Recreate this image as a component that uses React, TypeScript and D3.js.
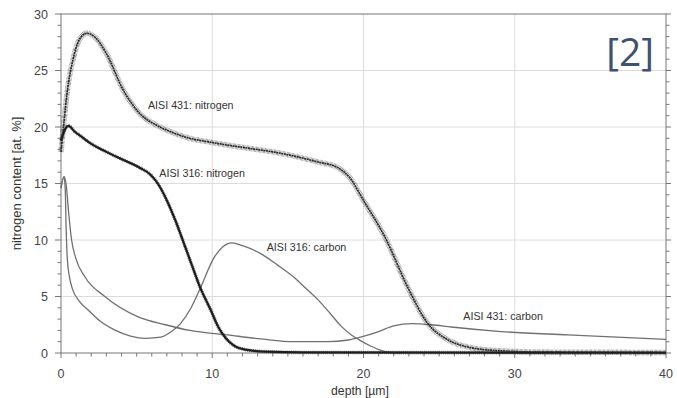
import React, { useEffect, useRef } from "react";
import * as d3 from "d3";

// depth [µm], content [at. %]
const n431: [number, number][] = [
  [0, 17.8], [0.2, 20.5], [0.4, 23], [0.8, 26], [1.2, 27.7], [1.7, 28.3], [2.2, 28.0],
  [3.0, 26.5], [4.1, 23.3], [5.2, 21.2], [6.4, 20.1], [7.4, 19.5], [8.5, 19.0], [9.7, 18.7],
  [11, 18.4], [12.5, 18.1], [14, 17.8], [15.5, 17.4], [17, 16.9], [18.3, 16.4], [19.1, 15.5],
  [20, 13.5], [21.4, 10.3], [23.0, 5.6], [24.2, 2.7], [25.6, 1.15], [27, 0.5], [29, 0.2],
  [32, 0.08], [40, 0.05],
];
const n316: [number, number][] = [
  [0, 18.8], [0.2, 19.6], [0.5, 20.1], [0.9, 19.6], [1.4, 19.1], [1.9, 18.6], [3, 17.8],
  [4.1, 17.1], [5.2, 16.4], [5.9, 15.8], [6.4, 15.0], [7.0, 13.5], [7.6, 11.6], [8.1, 9.8],
  [8.7, 7.6], [9.2, 5.8], [9.9, 3.8], [10.4, 2.3], [10.9, 1.3], [11.5, 0.6], [12.2, 0.3],
  [13.5, 0.12], [16, 0.05], [40, 0.02],
];
const c316: [number, number][] = [
  [0, 14.6], [0.2, 15.6], [0.28, 14.5], [0.34, 11], [0.42, 8.3], [0.55, 6.8], [0.75, 5.7],
  [1.2, 4.6], [1.8, 3.8], [2.6, 2.8], [3.6, 2.0], [4.6, 1.5], [5.6, 1.3], [6.6, 1.4],
  [7.3, 1.9], [7.9, 2.6], [8.6, 4], [9.2, 5.7], [10.1, 8.4], [10.7, 9.4], [11.3, 9.75],
  [12, 9.5], [13.2, 8.8], [14.3, 7.8], [15.4, 6.7], [16.2, 5.7], [17, 4.7], [17.8, 3.5],
  [18.5, 2.4], [19.2, 1.6], [19.8, 1.1], [20.5, 0.6], [21.1, 0.25], [21.8, 0.05], [22.5, 0],
];
const c431: [number, number][] = [
  [0, 14.6], [0.2, 15.6], [0.35, 14.8], [0.5, 12.5], [0.7, 10], [0.95, 8.5], [1.6, 6.7],
  [2.9, 5], [5.1, 3.2], [6.9, 2.5], [8.5, 2.0], [11, 1.6], [13.2, 1.25], [15.4, 1.0],
  [17.6, 1.0], [19, 1.15], [19.8, 1.4], [21, 1.9], [22, 2.4], [23.2, 2.6], [24.5, 2.5],
  [25.8, 2.3], [29.1, 1.9], [33.5, 1.6], [40, 1.2],
];

const xTicks = [0, 10, 20, 30, 40];
const yTicks = [0, 5, 10, 15, 20, 25, 30];

const labels = [
  { text: "AISI 431: nitrogen", x: 5.75, y: 21.6 },
  { text: "AISI 316: nitrogen", x: 6.5, y: 15.6 },
  { text: "AISI 316: carbon", x: 13.6, y: 9.0 },
  { text: "AISI 431: carbon", x: 26.6, y: 2.9 },
];

const W = 677;
const H = 398;

export default function App() {
  const ref = useRef<SVGSVGElement>(null);

  useEffect(() => {
    const svg = d3.select(ref.current);
    svg.selectAll("*").remove();

    const x = d3.scaleLinear().domain([0, 40]).range([61, 666]);
    const y = d3.scaleLinear().domain([0, 30]).range([353, 14]);
    const font = "'Liberation Sans', Arial, sans-serif";

    svg.append("rect").attr("width", W).attr("height", H).attr("fill", "#fff");

    // grid
    const grid = svg.append("g").attr("stroke", "#dcdcdc").attr("stroke-width", 1);
    xTicks.slice(1, -1).forEach((t) =>
      grid.append("line").attr("x1", x(t)).attr("x2", x(t)).attr("y1", y(0)).attr("y2", y(30))
    );
    yTicks.slice(1, -1).forEach((t) =>
      grid.append("line").attr("x1", x(0)).attr("x2", x(40)).attr("y1", y(t)).attr("y2", y(t))
    );

    // frame
    const axisColor = "#777";
    svg.append("rect")
      .attr("x", x(0)).attr("y", y(30))
      .attr("width", x(40) - x(0)).attr("height", y(0) - y(30))
      .attr("fill", "none").attr("stroke", axisColor).attr("stroke-width", 1);

    const ticks = svg.append("g").attr("stroke", axisColor).attr("stroke-width", 1);
    d3.range(0, 41, 1).forEach((t) => {
      const major = t % 10 === 0;
      ticks.append("line").attr("x1", x(t)).attr("x2", x(t))
        .attr("y1", y(0)).attr("y2", y(0) + (major ? 5 : 3.5));
    });
    d3.range(0, 31, 1).forEach((t) => {
      const major = t % 5 === 0;
      ticks.append("line").attr("x1", x(0) - (major ? 6 : 3.5)).attr("x2", x(0))
        .attr("y1", y(t)).attr("y2", y(t));
      ticks.append("line").attr("x1", x(40)).attr("x2", x(40) + (major ? 5 : 3.5))
        .attr("y1", y(t)).attr("y2", y(t));
    });

    // tick labels
    svg.append("g").selectAll("text").data(xTicks).enter().append("text")
      .attr("x", (d) => x(d)).attr("y", 378)
      .attr("text-anchor", "middle").attr("font-family", font).attr("font-size", 12.5)
      .attr("fill", "#444").text((d) => d);
    svg.append("g").selectAll("text").data(yTicks).enter().append("text")
      .attr("x", 48).attr("y", (d) => y(d) + 4.5)
      .attr("text-anchor", "end").attr("font-family", font).attr("font-size", 12.5)
      .attr("fill", "#444").text((d) => d);

    // axis titles
    svg.append("text").attr("x", 360).attr("y", 395)
      .attr("text-anchor", "middle").attr("font-family", font).attr("font-size", 12.2)
      .attr("fill", "#333").text("depth [µm]");
    svg.append("text")
      .attr("transform", `translate(21, ${(y(0) + y(30)) / 2}) rotate(-90)`)
      .attr("text-anchor", "middle").attr("font-family", font).attr("font-size", 13)
      .attr("fill", "#333").text("nitrogen content [at. %]");

    const line = d3.line<[number, number]>()
      .x((d) => x(d[0])).y((d) => y(d[1]))
      .curve(d3.curveMonotoneX);

    // carbon profiles
    [c316, c431].forEach((data) =>
      svg.append("path").attr("d", line(data)).attr("fill", "none")
        .attr("stroke", "#707070").attr("stroke-width", 1.3)
    );

    // nitrogen profiles (noisy measured data look)
    svg.append("path").attr("d", line(n431)).attr("fill", "none")
      .attr("stroke", "#444").attr("stroke-width", 5.5)
      .attr("stroke-dasharray", "0.6 0.7").attr("opacity", 0.65);
    svg.append("path").attr("d", line(n431)).attr("fill", "none")
      .attr("stroke", "#262626").attr("stroke-width", 1.6)
      .attr("stroke-dasharray", "2 0.6");
    svg.append("path").attr("d", line(n316)).attr("fill", "none")
      .attr("stroke", "#555").attr("stroke-width", 3.6)
      .attr("stroke-dasharray", "0.9 1").attr("opacity", 0.8);
    svg.append("path").attr("d", line(n316)).attr("fill", "none")
      .attr("stroke", "#1e1e1e").attr("stroke-width", 2.2);

    // curve labels
    svg.append("g").selectAll("text").data(labels).enter().append("text")
      .attr("x", (d) => x(d.x)).attr("y", (d) => y(d.y))
      .attr("font-family", font).attr("font-size", 10.7).attr("fill", "#333")
      .text((d) => d.text);

    // figure tag
    svg.append("text").attr("x", 654).attr("y", 66).attr("text-anchor", "end")
      .attr("font-family", "'Open Sans', sans-serif").attr("font-size", 39)
      .attr("fill", "#3e5170").text("[2]");
  }, []);

  return (
    <svg ref={ref} width={W} height={H}
      style={{ position: "absolute", left: 0, top: 0, display: "block" }} />
  );
}
